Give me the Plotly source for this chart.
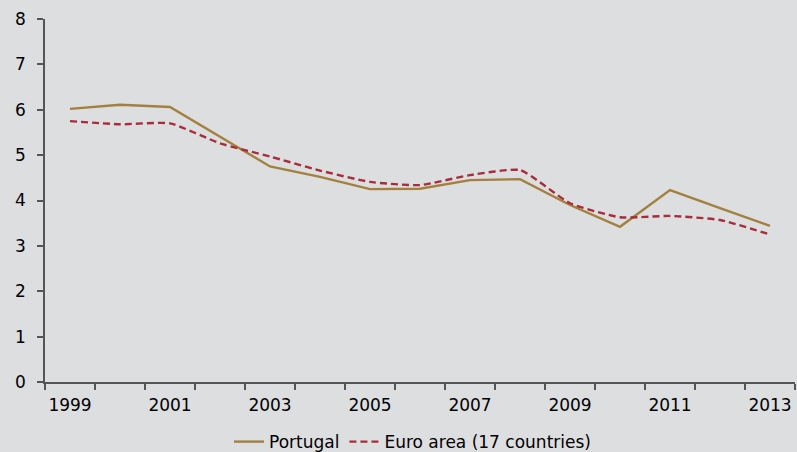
import plotly.graph_objects as go

years = list(range(1999, 2014))
portugal = [6.02, 6.11, 6.06, 5.40, 4.75, 4.52, 4.25, 4.26, 4.45, 4.47, 3.90, 3.42, 4.23, 3.83, 3.44]
euro_area = [5.75, 5.68, 5.70, 5.26, 4.97, 4.66, 4.41, 4.34, 4.56, 4.67, 3.94, 3.63, 3.66, 3.57, 3.25]
label_years = [1999, 2001, 2003, 2005, 2007, 2009, 2011, 2013]
y_ticks = list(range(0, 9))

fig = go.Figure()
fig.add_trace(go.Scatter(x=years, y=portugal, mode="lines", name="Portugal",
                         line=dict(color="#A3803F", width=2.4)))
fig.add_trace(go.Scatter(x=years, y=euro_area, mode="lines", name="Euro area (17 countries)",
                         line=dict(color="#A82C3A", width=2.4, dash="7px,4px", shape="spline", smoothing=0.5)))

font_family = "'DejaVu Sans', sans-serif"
fig.update_layout(
    width=797, height=452,
    margin=dict(l=45, r=2, t=19, b=70, autoexpand=False),
    paper_bgcolor="#DDDEE0", plot_bgcolor="#DDDEE0",
    font=dict(family=font_family, size=17, color="#000000"),
    showlegend=True,
    legend=dict(orientation="h", x=0.49, xanchor="center", yref="container", y=0.022, yanchor="middle",
                font=dict(size=17), bgcolor="rgba(0,0,0,0)", itemwidth=30, tracegroupgap=0),
    xaxis=dict(range=[1998.5, 2013.5], tickvals=label_years, ticktext=[str(y) for y in label_years],
               ticks="", showgrid=False, zeroline=False, showline=True, linecolor="#555555", linewidth=1.5,
               ticklabelstandoff=7, automargin=False,
               minor=dict(tick0=1998.5, dtick=1, ticks="outside", ticklen=6, tickcolor="#555555", tickwidth=1.5, showgrid=False)),
    yaxis=dict(range=[0, 8], tickvals=y_ticks, ticks="outside", ticklen=6, tickcolor="#555555", tickwidth=1.5,
               showgrid=False, zeroline=False, showline=True, linecolor="#555555", linewidth=1.5,
               ticklabelstandoff=8, automargin=False),
)
fig.write_html("out.html")
